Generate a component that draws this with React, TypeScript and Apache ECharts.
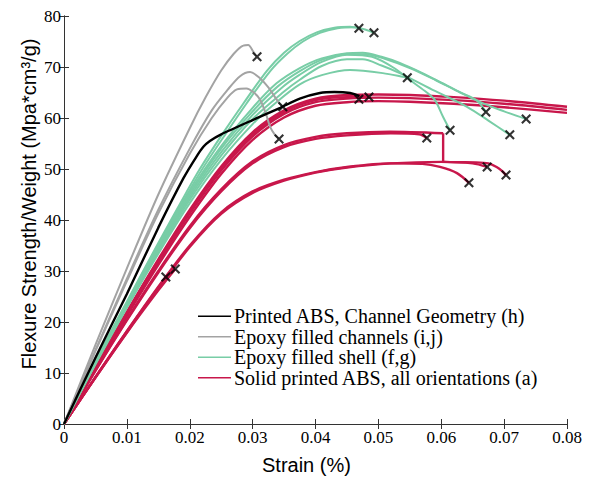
import React, { useEffect, useRef } from "react";
import * as echarts from "echarts";

// ---------- data (strain, strength/weight) ----------
const legendNames = [
  "Printed ABS, Channel Geometry (h)",
  "Epoxy filled channels (i,j)",
  "Epoxy filled shell (f,g)",
  "Solid printed ABS, all orientations (a)",
];

const blackCurve = [[0,0],[0.005,13],[0.01,25.5],[0.015,38.5],[0.019,48.2],[0.021,52.3],[0.0222,54.4],[0.0232,55.5],[0.025,56.8],[0.03,59.6],[0.0344,62],[0.0375,63.8],[0.0407,64.9],[0.043,65.1],[0.0455,64.9],[0.047,64.3]];

const gray1 = [[0,0],[0.005,15.5],[0.01,30.5],[0.015,45],[0.02,58],[0.0225,64],[0.025,69.3],[0.027,72.6],[0.0285,74.2],[0.0293,74.3],[0.0301,73],[0.0306,72.1]];
const gray2 = [[0,0],[0.005,14.5],[0.01,28.5],[0.015,42],[0.02,54],[0.0235,61.5],[0.026,65.5],[0.028,68.2],[0.0296,69],[0.031,68],[0.0325,66],[0.034,63.3],[0.0348,62.2]];
const gray3 = [[0,0],[0.005,14.3],[0.01,28],[0.015,41.3],[0.02,53],[0.0235,60],[0.026,64],[0.0275,65.6],[0.029,65.8],[0.0301,65.1],[0.0312,63.6],[0.0322,60.5],[0.0328,58.2],[0.0335,56.8],[0.0342,55.9]];

const green1 = [[0,0],[0.005,12.3],[0.01,24],[0.015,35.5],[0.0195,45.5],[0.0216,50],[0.025,56.5],[0.0285,62.8],[0.0323,69.3],[0.035,72.8],[0.0375,75.1],[0.0402,76.8],[0.043,77.7],[0.0455,77.9],[0.0469,77.6]];
const green1b = [[0,0],[0.005,12.2],[0.01,23.8],[0.015,35.2],[0.0198,45.5],[0.022,50],[0.0255,56.5],[0.029,62.8],[0.0328,69.2],[0.0355,72.6],[0.038,75],[0.0407,76.7],[0.0435,77.6],[0.0462,77.8],[0.048,77.3],[0.0493,76.7]];
const green2a = [[0,0],[0.005,11.9],[0.01,23.2],[0.015,34.2],[0.02,44.5],[0.025,53.3],[0.03,60.6],[0.0345,65.8],[0.0375,68.5],[0.041,71],[0.045,72.4],[0.049,72],[0.0525,69.8],[0.0555,67],[0.0577,65],[0.059,63.5],[0.0603,60.2],[0.0614,57.6]];
const green2b = [[0,0],[0.005,12],[0.01,23.4],[0.015,34.6],[0.02,45],[0.025,54],[0.03,61.3],[0.034,66.2],[0.0375,69.2],[0.041,71.4],[0.045,72.5],[0.048,72.5],[0.051,71.6],[0.055,69.8],[0.059,67.5],[0.063,65],[0.0656,63.5],[0.0671,61.2]];
const green2c = [[0,0],[0.005,12.1],[0.01,23.6],[0.015,35],[0.02,45.5],[0.025,54.5],[0.03,62],[0.0338,66.8],[0.0375,69.8],[0.041,71.7],[0.045,72.7],[0.0475,72.8],[0.0505,72],[0.0534,70.8],[0.057,68.8],[0.061,66.3],[0.0666,62.9],[0.07,61.3],[0.0735,59.8]];
const green2d = [[0,0],[0.005,11.8],[0.01,23],[0.015,33.8],[0.02,44],[0.025,52.6],[0.03,59.8],[0.035,65.2],[0.0375,67.5],[0.041,70.2],[0.045,71.5],[0.0475,71.5],[0.0505,70.3],[0.0534,68.8],[0.059,65.3],[0.0641,62.2],[0.0675,59.5],[0.0709,56.7]];
const green3 = [[0,0],[0.005,11.7],[0.01,22.8],[0.015,33.4],[0.02,43.3],[0.025,51.8],[0.03,58.8],[0.0335,62.8],[0.0375,66.6],[0.041,68.4],[0.0455,69.4],[0.0507,68.8],[0.0546,67.9]];

const red1 = [[0,0],[0.005,11.2],[0.01,22],[0.015,32.3],[0.02,42],[0.025,50.5],[0.03,57.2],[0.035,61.5],[0.04,63.8],[0.045,64.5],[0.05,64.6],[0.055,64.5],[0.062,64.1],[0.07,63.4],[0.08,62.2]];
const red2 = [[0,0],[0.005,11],[0.01,21.6],[0.015,31.8],[0.02,41.3],[0.025,49.7],[0.03,56.4],[0.035,60.8],[0.04,63.1],[0.045,63.8],[0.05,64],[0.055,63.9],[0.062,63.5],[0.07,62.8],[0.08,61.6]];
const red3 = [[0,0],[0.005,10.8],[0.01,21.2],[0.015,31.2],[0.02,40.6],[0.025,49],[0.03,55.7],[0.035,60.1],[0.04,62.4],[0.045,63.1],[0.05,63.3],[0.055,63.2],[0.062,62.8],[0.07,62.1],[0.08,61]];
const red4 = [[0,0],[0.005,11.1],[0.01,21.8],[0.015,32],[0.02,41.6],[0.025,50.1],[0.03,56.8],[0.035,61.2],[0.04,63.5],[0.045,64.1],[0.0485,64.1]];
const redMid1 = [[0,0],[0.005,10.5],[0.01,20.5],[0.015,30],[0.02,38.8],[0.025,46],[0.03,51.5],[0.035,54.7],[0.04,56.3],[0.045,57],[0.0518,57.3],[0.0603,57]];
const redMid1Tail = [[0.0603,57],[0.0603,51.4],[0.0655,51.3],[0.0675,51.1],[0.0688,50.4],[0.0697,49.6],[0.0703,48.8]];
const redMid2 = [[0,0],[0.005,10.4],[0.01,20.3],[0.015,29.7],[0.02,38.4],[0.025,45.6],[0.03,51.1],[0.035,54.3],[0.04,55.9],[0.045,56.6],[0.052,57],[0.0565,56.8],[0.0577,56.1]];
const redLow1 = [[0,0],[0.005,9.2],[0.01,18.2],[0.015,26.9],[0.02,35],[0.025,41.5],[0.03,45.6],[0.035,47.9],[0.04,49.4],[0.045,50.4],[0.0518,51.1],[0.057,51],[0.0598,50.4],[0.0625,49.2],[0.0644,47.3]];
const redLow2 = [[0,0],[0.005,9.1],[0.01,18],[0.015,26.6],[0.02,34.7],[0.025,41.2],[0.03,45.3],[0.035,47.7],[0.04,49.3],[0.045,50.3],[0.052,51.1],[0.06,51.4],[0.065,51.1],[0.0673,50.4]];
const redEarly1 = [[0,0],[0.005,9.2],[0.01,18.2],[0.0162,28.8]];
const redEarly2 = [[0,0],[0.005,9.1],[0.01,17.9],[0.015,26.2],[0.0177,30.4]];

const failurePoints = [[0.0307,72.0],[0.0348,62.2],[0.0342,55.9],[0.0469,63.7],[0.0485,64.1],[0.0469,77.6],[0.0493,76.7],[0.0546,67.9],[0.0614,57.6],[0.0671,61.2],[0.0735,59.8],[0.0709,56.7],[0.0577,56.1],[0.0703,48.8],[0.0673,50.4],[0.0644,47.3],[0.0162,28.8],[0.0177,30.4]];

const BLACK = "#000000";
const GRAY = "#a3a3a3";
const GREEN = "#78cda6";
const RED = "#c8174b";

const XPATH = "path://M0,1.5L1.5,0L5,3.5L8.5,0L10,1.5L6.5,5L10,8.5L8.5,10L5,6.5L1.5,10L0,8.5L3.5,5Z";

export default function App() {
  const ref = useRef<HTMLDivElement>(null);
  useEffect(() => {
    document.body.style.margin = "0";
    const chart = echarts.init(ref.current!, null, { renderer: "svg" });
    const line = (name: string, color: string, width: number, data: number[][], z: number, smooth: number | boolean = 0.3) => ({
      type: "line",
      name,
      data,
      xAxisIndex: 0,
      yAxisIndex: 0,
      symbol: "none",
      showSymbol: false,
      smooth,
      z,
      lineStyle: { color, width },
      itemStyle: { color },
      emphasis: { disabled: true },
    });
    const series: any[] = [
      ...[red1, red2, red3, red4, redMid1, redMid2, redLow1, redLow2, redEarly1, redEarly2].map((d) => line(legendNames[3], RED, 2.4, d, 2)),
      line(legendNames[3], RED, 2.4, redMid1Tail, 2, 0.15),
      ...[green1, green1b, green2a, green2b, green2c, green2d, green3].map((d) => line(legendNames[2], GREEN, 2, d, 3)),
      ...[gray1, gray2, gray3].map((d) => line(legendNames[1], GRAY, 2, d, 4)),
      line(legendNames[0], BLACK, 2.4, blackCurve, 5, 0.2),
      {
        type: "scatter",
        data: failurePoints,
        symbol: XPATH,
        symbolSize: 10,
        itemStyle: { color: "#000" },
        z: 10,
        silent: true,
      },
    ];
    const axisCommon = {
      axisLine: { show: true, lineStyle: { color: "#333", width: 1 } },
      axisTick: { show: true, inside: true, length: 5, lineStyle: { color: "#333" } },
      splitLine: { show: false },
    };
    chart.setOption({
      animation: false,
      grid: { left: 64, right: 30, top: 16, bottom: 57, containLabel: false },
      legend: {
        data: legendNames,
        orient: "vertical",
        left: 198,
        top: 306,
        padding: 0,
        itemGap: 0,
        itemWidth: 33,
        itemHeight: 14,
        icon: "path://M0,6.5L33,6.5L33,8L0,8Z",
        selectedMode: false,
        textStyle: { fontFamily: "Liberation Serif", fontSize: 20, lineHeight: 20.5, color: "#000", padding: [0, 0, 0, -2] },
      },
      xAxis: [
        {
          type: "value",
          min: 0,
          max: 0.08,
          interval: 0.01,
          ...axisCommon,
          axisLabel: {
            margin: 5,
            fontFamily: "Liberation Serif",
            fontSize: 17,
            color: "#000",
            formatter: (v: number) => (v === 0 ? "0" : v.toFixed(2)),
          },
        },
        {
          type: "value",
          position: "top",
          min: 0,
          max: 0.08,
          interval: 0.01,
          ...axisCommon,
          axisLabel: { show: false },
        },
      ],
      yAxis: [
        {
          type: "value",
          min: 0,
          max: 80,
          interval: 10,
          ...axisCommon,
          axisLabel: { margin: 3, fontFamily: "Liberation Serif", fontSize: 17, color: "#000" },
        },
        {
          type: "value",
          position: "right",
          min: 0,
          max: 80,
          interval: 10,
          ...axisCommon,
          axisLabel: { show: false },
        },
      ],
      graphic: [
        {
          type: "text",
          left: 262,
          top: 455,
          style: { text: "Strain (%)", font: '20px "Liberation Sans"', fill: "#000" },
        },
        {
          type: "text",
          x: 29,
          y: 204,
          rotation: Math.PI / 2,
          style: {
            text: "Flexure Strength/Weight (Mpa*cm³/g)",
            font: '20px "Liberation Sans"',
            fill: "#000",
            align: "center",
            verticalAlign: "middle",
          },
        },
      ],
      series,
    });
    return () => chart.dispose();
  }, []);
  return <div ref={ref} style={{ width: 597, height: 481 }} />;
}
